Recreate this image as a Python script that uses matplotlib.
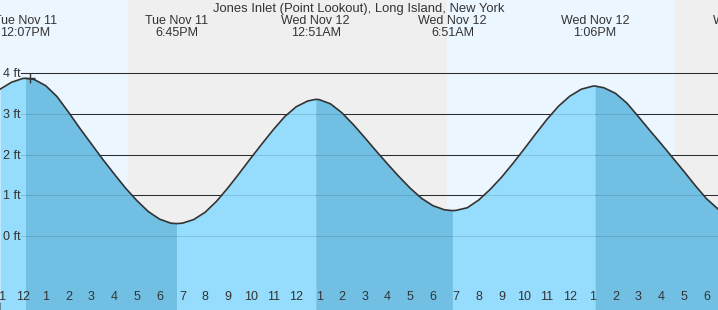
import matplotlib
matplotlib.use("Agg")
import matplotlib.pyplot as plt
import matplotlib.transforms as mtransforms
import numpy as np

plt.rcParams["font.family"] = ["Liberation Sans", "DejaVu Sans"]

TITLE = "Jones Inlet (Point Lookout), Long Island, New York"

# hours since midnight Nov 11, water level in ft
tide_hours = [11.0, 11.5, 12.0, 12.117, 12.5, 13.0, 13.5, 14.0, 14.5, 15.0,
              15.5, 16.0, 16.5, 17.0, 17.5, 18.0, 18.5, 18.75, 19.0, 19.5,
              20.0, 20.5, 21.0, 21.5, 22.0, 22.5, 23.0, 23.5, 24.0, 24.5,
              24.85, 25.0, 25.5, 26.0, 26.5, 27.0, 27.5, 28.0, 28.5, 29.0,
              29.5, 30.0, 30.5, 30.85, 31.0, 31.5, 32.0, 32.5, 33.0, 33.5,
              34.0, 34.5, 35.0, 35.5, 36.0, 36.5, 37.0, 37.1, 37.5, 38.0,
              38.5, 39.0, 39.5, 40.0, 40.5, 41.0, 41.5, 42.0, 42.5]
tide_ft = [3.61, 3.78, 3.875, 3.88, 3.85, 3.70, 3.43, 3.05, 2.65, 2.27,
           1.89, 1.53, 1.18, 0.87, 0.60, 0.41, 0.31, 0.30, 0.31, 0.40,
           0.58, 0.85, 1.18, 1.54, 1.91, 2.27, 2.62, 2.94, 3.18, 3.32,
           3.36, 3.355, 3.25, 3.03, 2.74, 2.42, 2.09, 1.77, 1.46, 1.17,
           0.92, 0.74, 0.64, 0.62, 0.625, 0.69, 0.88, 1.14, 1.44, 1.78,
           2.14, 2.51, 2.87, 3.19, 3.44, 3.61, 3.685, 3.69, 3.645, 3.51,
           3.27, 2.94, 2.60, 2.27, 1.93, 1.59, 1.24, 0.91, 0.66]

# high / low tide events
extreme_hours = [12.117, 18.75, 24.85, 30.85, 37.1, 43.77]
extreme_kind = ["high", "low", "high", "low", "high", "low"]
extreme_day = ["Tue Nov 11", "Tue Nov 11", "Wed Nov 12", "Wed Nov 12",
               "Wed Nov 12", "Wed Nov 12"]
extreme_time = ["12:07PM", "6:45PM", "12:51AM", "6:51AM", "1:06PM", "7:46PM"]

# sunset / sunrise / sunset
sun_hours = [16.62, 30.62, 40.63]

# current time marker
now_hour, now_ft = 12.32, 3.89

ft_levels = [0, 1, 2, 3, 4]
tick_hours = list(range(11, 43))

DAY = "#ECF6FE"
NIGHT = "#EFEFEF"
RISING = "#96DCFC"
FALLING = "#71C0E4"
INK = "#333333"

x0, x1 = 11.0, 42.5
y0, y1 = -1.828, 5.808

fig = plt.figure(figsize=(7.18, 3.10), dpi=100)
ax = fig.add_axes([0, 0, 1, 1])
ax.set_xlim(x0, x1)
ax.set_ylim(y0, y1)
for s in ax.spines.values():
    s.set_visible(False)

# day / night background
edges = [x0] + sun_hours + [x1]
for i, (a, b) in enumerate(zip(edges[:-1], edges[1:])):
    ax.axvspan(a, b, color=DAY if i % 2 == 0 else NIGHT, lw=0, zorder=0)

# dark ft lines behind the water
gx = 21 / 718
for lv in ft_levels[1:]:
    ax.axhline(lv, xmin=gx, color=INK, lw=0.75, zorder=1)

t = np.array(tide_hours)
h = np.array(tide_ft)
cuts = [x0] + [e for e in extreme_hours if x0 < e < x1] + [x1]
for a, b in zip(cuts[:-1], cuts[1:]):
    nxt = next(k for e, k in zip(extreme_hours, extreme_kind) if e > a)
    m = (t >= a) & (t <= b)
    ax.fill_between(t[m], h[m], y0 - 1, color=RISING if nxt == "high" else FALLING,
                    lw=0, zorder=2)

# faint ft lines through the water
for lv in ft_levels:
    ax.axhline(lv, xmin=gx, color="black", alpha=0.12, lw=0.75, zorder=3)

ax.plot(t, h, color=INK, lw=1.2, zorder=4, solid_joinstyle="round")
ax.plot([now_hour], [now_ft], marker="+", ms=7, mew=1.0, color=INK, zorder=5)

# ft labels
yt = mtransforms.blended_transform_factory(ax.transAxes, ax.transData)
for lv in ft_levels:
    ax.text(20.5 / 718, lv - 0.1, f"{lv} ft", transform=yt, ha="right",
            va="baseline", fontsize=9, color=INK)

# hour ticks along the bottom
ax.set_xticks(tick_hours)
ax.set_xticklabels([])
ax.set_yticks([])
ax.tick_params(axis="x", direction="in", length=5.8, width=0.75, color=INK)
for hr, tk in zip(tick_hours, ax.xaxis.get_major_ticks()):
    if hr % 24 == 0:
        tk.tick1line.set_markeredgewidth(2.2)
xt = mtransforms.blended_transform_factory(ax.transData, ax.transAxes)
for hr in tick_hours:
    lab = hr % 12 or 12
    ax.text(hr, 10 / 310, str(lab), transform=xt, ha="center", va="baseline",
            fontsize=9, color=INK, clip_on=False)

# event labels along the top
for e, d, tm in zip(extreme_hours, extreme_day, extreme_time):
    ax.text(e, 1 - 24 / 310, d, transform=xt, ha="center", va="baseline",
            fontsize=9, color=INK)
    ax.text(e, 1 - 36 / 310, tm, transform=xt, ha="center", va="baseline",
            fontsize=9, color=INK)

fig.text(0.5, 1 - 12 / 310, TITLE, ha="center", va="baseline", fontsize=9.4, color=INK)

fig.savefig("out.png", dpi=100)
